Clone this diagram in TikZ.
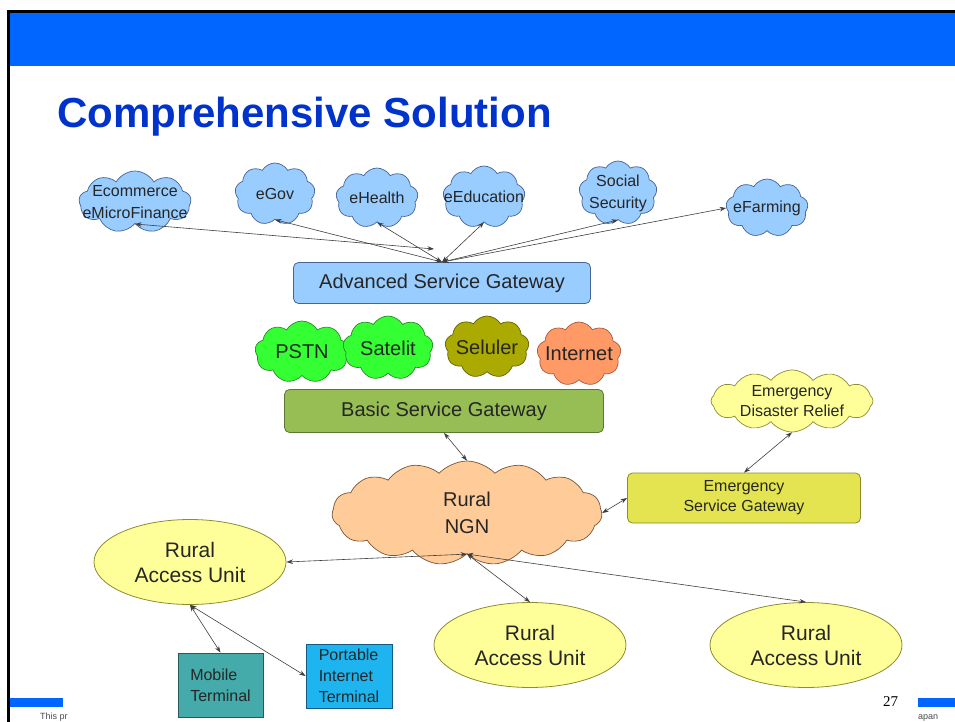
\documentclass[tikz,border=0pt]{standalone}
\usepackage{fontspec}
\setmainfont{Liberation Sans}
\newfontfamily\numfont{Liberation Serif}
\usetikzlibrary{shapes.symbols,shapes.geometric,arrows.meta}

\definecolor{barra}{RGB}{0,102,255}
\definecolor{titulo}{RGB}{0,51,204}
\definecolor{celeste}{RGB}{153,204,255}
\definecolor{celesteborda}{RGB}{70,100,150}
\definecolor{verde}{RGB}{51,255,51}
\definecolor{verdeborda}{RGB}{40,140,40}
\definecolor{oliva}{RGB}{170,170,0}
\definecolor{olivaborda}{RGB}{100,100,0}
\definecolor{salmao}{RGB}{255,153,102}
\definecolor{salmaoborda}{RGB}{170,90,60}
\definecolor{basico}{RGB}{150,190,85}
\definecolor{basicoborda}{RGB}{90,120,50}
\definecolor{pessego}{RGB}{255,204,153}
\definecolor{pessegoborda}{RGB}{120,85,55}
\definecolor{amarelo}{RGB}{255,255,153}
\definecolor{amareloborda}{RGB}{140,140,50}
\definecolor{emergencia}{RGB}{228,228,80}
\definecolor{emergenciaborda}{RGB}{140,140,40}
\definecolor{turquesa}{RGB}{68,170,170}
\definecolor{turquesaborda}{RGB}{40,90,90}
\definecolor{ciano}{RGB}{30,180,240}
\definecolor{cianoborda}{RGB}{20,90,130}

\begin{document}
\begin{tikzpicture}[x=1pt, y=-1pt,
    >={Stealth[length=6.5pt, width=4.5pt]},
    seta/.style={<->, draw=black!75, line width=0.6pt},
    nuvem/.style={cloud, cloud puffs=9, cloud puff arc=120, cloud ignores aspect,
        draw, line width=0.7pt, inner sep=0pt},
    rotulo/.style={font=\fontsize{16}{22}\selectfont, align=center, text=black!85},
    caixa/.style={rectangle, rounded corners=5pt, draw, line width=0.8pt, inner sep=0pt},
    unidade/.style={ellipse, draw=amareloborda, fill=amarelo, line width=0.8pt,
        minimum width=192pt, minimum height=85pt, inner sep=0pt, align=center,
        font=\fontsize{21}{25}\selectfont, text=black!85},
    terminal/.style={rectangle, draw, line width=0.8pt, inner sep=0pt,
        minimum width=86pt, minimum height=64pt, align=left,
        font=\fontsize{16}{21}\selectfont, text=black!85}]

    % Moldura do slide
    \fill[white] (0,0) rectangle (955,722);
    \useasboundingbox (0,0) rectangle (955,722);
    \fill[barra] (10,13) rectangle (955,66);
    \draw[line width=3pt] (8.5,722) -- (8.5,11.5) -- (955,11.5);
    \node[anchor=base west, inner sep=0pt, text=titulo,
        font=\fontsize{42}{46}\selectfont\bfseries] (titulo) at (57,128) {Comprehensive Solution};

    % Rodape
    \fill[barra] (10,698) rectangle (63,707);
    \fill[barra] (918,698) rectangle (955,707);
    \node[anchor=base west, inner sep=0pt, text=black!70, font=\fontsize{9}{10}\selectfont] (rodapeA) at (40,719) {This pr};
    \node[anchor=base west, inner sep=0pt, text=black!70, font=\fontsize{9}{10}\selectfont] (rodapeB) at (918,719) {apan};
    \node[anchor=base west, inner sep=0pt, font=\numfont\fontsize{15}{16}\selectfont] (pagina) at (883,706) {27};

    % Servicos avancados
    \node[nuvem, fill=celeste, draw=celesteborda, minimum width=112pt, minimum height=62pt,
        label={[rotulo]center:{Ecommerce\\eMicroFinance}}] (ecom) at (135,202) {};
    \node[nuvem, fill=celeste, draw=celesteborda, minimum width=80pt, minimum height=62pt,
        label={[rotulo]center:eGov}] (egov) at (275,194) {};
    \node[nuvem, fill=celeste, draw=celesteborda, minimum width=82pt, minimum height=60pt,
        label={[rotulo]center:eHealth}] (ehealth) at (377,198) {};
    \node[nuvem, fill=celeste, draw=celesteborda, minimum width=82pt, minimum height=62pt,
        label={[rotulo]center:eEducation}] (eedu) at (484,197) {};
    \node[nuvem, fill=celeste, draw=celesteborda, minimum width=78pt, minimum height=64pt,
        label={[rotulo]center:{Social\\Security}}] (social) at (618,193) {};
    \node[nuvem, fill=celeste, draw=celesteborda, minimum width=82pt, minimum height=58pt,
        label={[rotulo]center:eFarming}] (efarm) at (767,208) {};

    \node[caixa, fill=celeste, draw=celesteborda, minimum width=297pt, minimum height=41pt,
        font=\fontsize{20}{24}\selectfont, text=black!85] (asg) at (442,283) {Advanced Service Gateway};

    % Redes de acesso
    \node[nuvem, fill=verde, draw=verdeborda, minimum width=94pt, minimum height=62pt,
        label={[rotulo, font=\fontsize{20}{24}\selectfont]center:PSTN}] (pstn) at (302,352) {};
    \node[nuvem, fill=verde, draw=verdeborda, minimum width=90pt, minimum height=64pt,
        label={[rotulo, font=\fontsize{20}{24}\selectfont]center:Satelit}] (satelit) at (388,348) {};
    \node[nuvem, fill=oliva, draw=olivaborda, minimum width=84pt, minimum height=62pt,
        label={[rotulo, font=\fontsize{20}{24}\selectfont]center:Seluler}] (seluler) at (487,347) {};
    \node[nuvem, fill=salmao, draw=salmaoborda, minimum width=84pt, minimum height=64pt,
        label={[rotulo, font=\fontsize{20}{24}\selectfont]center:Internet}] (internet) at (579,354) {};

    \node[caixa, fill=basico, draw=basicoborda, minimum width=319pt, minimum height=43pt,
        font=\fontsize{20}{24}\selectfont, text=black!85] (bsg) at (444,411) {Basic Service Gateway};

    % Nucleo e emergencia
    \node[nuvem, cloud puffs=15, cloud puff arc=95, fill=pessego, draw=pessegoborda, minimum width=270pt, minimum height=104pt,
        label={[rotulo, font=\fontsize{20}{27}\selectfont]center:{Rural\\NGN}}] (ngn) at (467,513) {};
    \node[nuvem, cloud puffs=12, cloud puff arc=105, fill=amarelo, draw=amareloborda, minimum width=162pt, minimum height=62pt,
        label={[rotulo, font=\fontsize{16}{20}\selectfont]center:{Emergency\\Disaster Relief}}] (edr) at (792,401) {};
    \node[caixa, fill=emergencia, draw=emergenciaborda, minimum width=233pt, minimum height=50pt,
        align=center, font=\fontsize{16}{20}\selectfont, text=black!85] (esg) at (744,498) {Emergency\\Service Gateway};

    % Unidades de acesso e terminais
    \node[unidade] (rauA) at (190,562) {Rural\\Access Unit};
    \node[unidade] (rauB) at (530,645) {Rural\\Access Unit};
    \node[unidade] (rauC) at (806,645) {Rural\\Access Unit};
    \node[terminal, fill=turquesa, draw=turquesaborda, minimum width=85pt] (movel) at (220.5,685) {Mobile\\Terminal};
    \node[terminal, fill=ciano, draw=cianoborda] (portatil) at (349,676) {Portable\\Internet\\Terminal};

    % Ligacoes
    \coordinate (ecomfim) at (434,249);
    \draw[seta] (ecom.south) -- (ecomfim);
    \draw[seta] (egov.south) -- (asg.north);
    \draw[seta] (ehealth.south) -- (asg.north);
    \draw[seta] (eedu.south) -- (asg.north);
    \draw[seta] (social.south) -- (asg.north);
    \draw[seta] (efarm.west) -- (asg.north);
    \draw[seta] (bsg.south) -- (ngn.north);
    \draw[seta] (edr.south) -- (esg.north);
    \draw[seta] (ngn.east) -- (esg.west);
    \draw[seta] (ngn.south) -- (rauA.east);
    \draw[seta] (ngn.south) -- (rauB.north);
    \draw[seta] (ngn.south) -- (rauC.north);
    \draw[seta] (rauA.south) -- (movel.north);
    \draw[seta] (rauA.south) -- (portatil.west);

\end{tikzpicture}
\end{document}
